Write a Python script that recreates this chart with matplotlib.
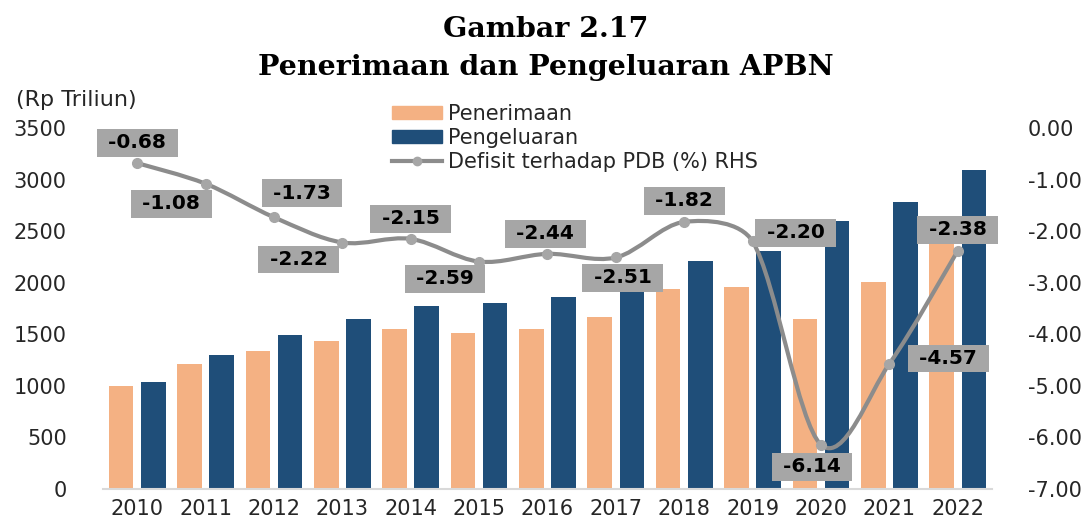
import numpy as np
import matplotlib
matplotlib.use("Agg")
import matplotlib.pyplot as plt
from matplotlib.path import Path
from matplotlib.patches import PathPatch
from matplotlib.lines import Line2D
from matplotlib.patches import Patch
from matplotlib.ticker import FuncFormatter

years = ["2010", "2011", "2012", "2013", "2014", "2015", "2016",
         "2017", "2018", "2019", "2020", "2021", "2022"]
penerimaan = [996, 1211, 1338, 1438, 1550, 1508, 1555, 1666, 1943, 1960, 1647, 2011, 2626]
pengeluaran = [1042, 1295, 1491, 1650, 1777, 1806, 1864, 2007, 2213, 2309, 2595, 2786, 3096]
defisit = [-0.68, -1.08, -1.73, -2.22, -2.15, -2.59, -2.44, -2.51, -1.82, -2.20, -6.14, -4.57, -2.38]

# label box offsets (years, percent) relative to each point
lab_dx = [0, -0.5, 0.41, -0.64, 0, -0.5, -0.03, 0.1, 0, 0.63, -0.13, 0.86, 0]
lab_dy = [0.39, -0.39, 0.47, -0.33, 0.39, -0.33, 0.39, -0.39, 0.41, 0.17, -0.43, 0.1, 0.41]

c_pen = "#F4B183"
c_peng = "#1F4E79"
c_line = "#8C8C8C"
c_txt = "#262626"

plt.rcParams["axes.unicode_minus"] = False
plt.rcParams["font.family"] = "DejaVu Sans"

fig = plt.figure(figsize=(10.92, 5.20), dpi=100)
ax = fig.add_axes([0.0943, 0.0596, 0.8141, 0.6942])
x = np.arange(len(years))
w = 0.36
ax.bar(x - 0.235, penerimaan, w, color=c_pen, zorder=2)
ax.bar(x + 0.235, pengeluaran, w, color=c_peng, zorder=2)
ax.set_xlim(-0.5, len(years) - 0.5)
ax.set_ylim(0, 3500)
ax.set_yticks(range(0, 3501, 500))
ax.set_xticks(x)
ax.set_xticklabels(years)
ax.tick_params(length=0, labelsize=15, colors=c_txt)
ax.tick_params(axis="y", pad=26)
ax.tick_params(axis="x", pad=7)
for s in ["top", "right", "left"]:
    ax.spines[s].set_visible(False)
ax.spines["bottom"].set_color("#D9D9D9")
ax.spines["bottom"].set_linewidth(1.5)

ax2 = ax.twinx()
ax2.set_ylim(-7, 0)
ax2.set_yticks(np.arange(-7, 0.1, 1))
ax2.yaxis.set_major_formatter(FuncFormatter(lambda v, p: "%.2f" % v))
ax2.tick_params(length=0, labelsize=15, colors=c_txt, pad=26)
for s in ax2.spines.values():
    s.set_visible(False)

# smoothed line: bezier through the points, control arms limited to a third
# of the segment (computed in screen-like proportions, y scaled to match x)
sy = 0.754
pts = np.column_stack([x, np.array(defisit) * sy]).astype(float)
n = len(pts)
tang = []
for i in range(n):
    a = pts[i - 1] if i > 0 else pts[i]
    b = pts[i + 1] if i < n - 1 else pts[i]
    tang.append((b - a) / 2.0)
verts = [pts[0]]
codes = [Path.MOVETO]
for i in range(n - 1):
    p1, p2 = pts[i], pts[i + 1]
    d = np.hypot(*(p2 - p1)) / 3.0
    t1, t2 = tang[i] / 3.0, tang[i + 1] / 3.0
    if np.hypot(*t1) > d:
        t1 = t1 / np.hypot(*t1) * d
    if np.hypot(*t2) > d:
        t2 = t2 / np.hypot(*t2) * d
    verts += [p1 + t1, p2 - t2, p2]
    codes += [Path.CURVE4] * 3
verts = np.array(verts)
verts[:, 1] /= sy
ax2.add_patch(PathPatch(Path(verts, codes), fill=False, edgecolor=c_line, lw=3, zorder=3))
ax2.plot(x, defisit, "o", color="#A6A6A6", ms=7, zorder=4)

for i, v in enumerate(defisit):
    ax2.text(x[i] + lab_dx[i], v + lab_dy[i], " %.2f " % v, ha="center", va="center",
             fontsize=14.5, fontweight="bold", color="black", zorder=5,
             bbox=dict(boxstyle="square,pad=0.22", fc="#A6A6A6", ec="none"))

handles = [Patch(color=c_pen), Patch(color=c_peng),
           Line2D([], [], color=c_line, lw=3, marker="o", ms=6, mfc="#A6A6A6", mec="#A6A6A6")]
leg = ax2.legend(handles, ["Penerimaan", "Pengeluaran", "Defisit terhadap PDB (%) RHS"],
                 loc="upper left", bbox_to_anchor=(0.316, 1.09), frameon=False,
                 fontsize=15, handlelength=2.4, handleheight=0.55, labelspacing=0.2,
                 handletextpad=0.3, borderaxespad=0)
for t in leg.get_texts():
    t.set_color(c_txt)

fig.text(0.5, 0.943, "Gambar 2.17", ha="center", va="center", fontsize=20.5,
         fontweight="bold", family="DejaVu Serif")
fig.text(0.5, 0.87, "Penerimaan dan Pengeluaran APBN", ha="center", va="center",
         fontsize=20.5, fontweight="bold", family="DejaVu Serif")
fig.text(0.015, 0.808, "(Rp Triliun)", ha="left", va="center", fontsize=16, color=c_txt)

fig.savefig("out.png", dpi=100)
